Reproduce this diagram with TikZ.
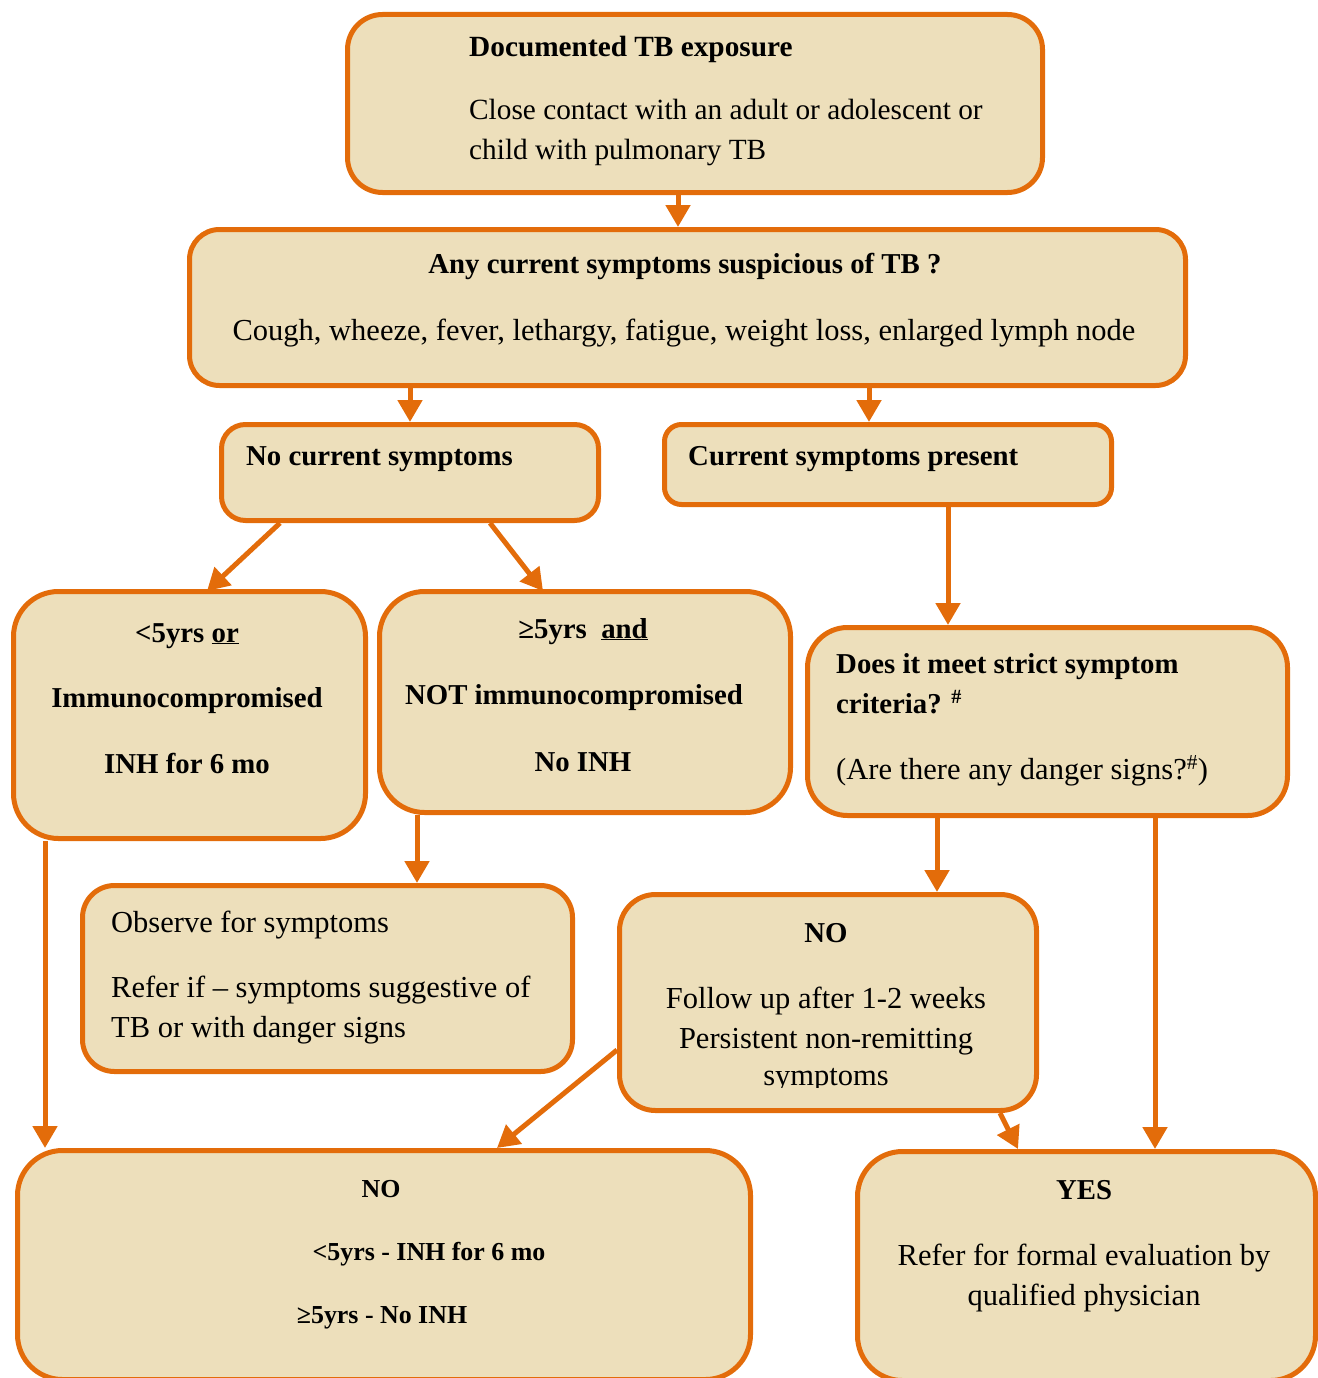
\documentclass[tikz,border=0pt]{standalone}
\usepackage{fontspec}
\setmainfont{Liberation Serif}
\usetikzlibrary{arrows.meta}

\definecolor{tborange}{RGB}{227,108,10}
\definecolor{tbfill}{RGB}{237,223,187}

\newcommand{\bodyfont}{\fontsize{30.5}{40}\selectfont}
\newcommand{\boldfont}{\fontsize{28.8}{38}\selectfont\bfseries}
\newcommand{\expofont}{\fontsize{29.3}{39}\selectfont}
\newcommand{\smallfont}{\fontsize{25.9}{34}\selectfont\bfseries}

\tikzset{
  tbbox/.style={draw=tborange, fill=tbfill, line width=5pt, inner sep=0pt, anchor=north west},
  tbarrow/.style={draw=tborange, line width=5pt, -{Triangle[length=22pt,width=24pt]}},
  txt/.style={font=\bodyfont, inner sep=0pt, text=black},
  txtb/.style={font=\boldfont, inner sep=0pt, text=black}
}

\begin{document}
\begin{tikzpicture}[x=1pt, y=-1pt]

        \useasboundingbox (0,0) rectangle (1317,1378);

        % Draw boxes
        \node[tbbox, minimum width=695pt, minimum height=178pt, rounded corners=35pt] (expo) at (345,12) {};
        \node[tbbox, minimum width=996pt, minimum height=156pt, rounded corners=30pt] (sympt) at (187,227) {};
        \node[tbbox, minimum width=377pt, minimum height=96pt, rounded corners=24pt] (nosym) at (219,422) {};
        \node[tbbox, minimum width=447pt, minimum height=80pt, rounded corners=17pt] (cursym) at (662,422) {};
        \node[tbbox, minimum width=352pt, minimum height=247pt, rounded corners=45pt] (young) at (11,589) {};
        \node[tbbox, minimum width=411pt, minimum height=221pt, rounded corners=45pt] (older) at (377,589) {};
        \node[tbbox, minimum width=480pt, minimum height=188pt, rounded corners=40pt] (strict) at (805,625) {};
        \node[tbbox, minimum width=490pt, minimum height=186pt, rounded corners=32pt] (observe) at (80,883) {};
        \node[tbbox, minimum width=417pt, minimum height=216pt, rounded corners=36pt] (follow) at (617,892) {};
        \node[tbbox, minimum width=733pt, minimum height=229pt, rounded corners=45pt] (notb) at (15,1148) {};
        \node[tbbox, minimum width=458pt, minimum height=229pt, rounded corners=45pt] (yestb) at (855,1149) {};

        % Arrows between boxes
        \draw[tbarrow] (expo.south -| 678,0) -- (sympt.north -| 678,0);
        \draw[tbarrow] (sympt.south -| 410,0) -- (nosym.north -| 410,0);
        \draw[tbarrow] (sympt.south -| 869,0) -- (cursym.north -| 869,0);
        \draw[tbarrow] ([xshift=61pt]nosym.south west) -- ([xshift=196pt,yshift=-2pt]young.north west);
        \draw[tbarrow] ([xshift=271pt]nosym.south west) -- ([xshift=166pt,yshift=-2pt]older.north west);
        \draw[tbarrow] (cursym.south -| 948,0) -- (strict.north -| 948,0);
        \draw[tbarrow] (older.south -| 417,0) -- (observe.north -| 417,0);
        \draw[tbarrow] (strict.south -| 937,0) -- (follow.north -| 937,0);
        \draw[tbarrow] (strict.south -| 1155,0) -- (yestb.north -| 1155,0);
        \draw[tbarrow] (young.south -| 45,0) -- (notb.north -| 45,0);
        \draw[tbarrow] ([yshift=-158pt]follow.north west) -- ([xshift=482pt]notb.north west);
        \draw[tbarrow] ([xshift=383pt]follow.south west) -- ([xshift=163pt]yestb.north west);

        % Texts in the boxes
        \node[txtb, font=\expofont\bfseries, anchor=base west] (expo-t1) at (469,57) {Documented TB exposure};
        \node[txt, font=\expofont, anchor=base west] (expo-t2) at (469,120) {Close contact with an adult or adolescent or};
        \node[txt, font=\expofont, anchor=base west] (expo-t3) at (469,160) {child with pulmonary TB};

        \node[txtb, anchor=base] (sympt-t1) at (685,273) {Any current symptoms suspicious of TB ?};
        \node[txt, anchor=base] (sympt-t2) at (684,340) {Cough, wheeze, fever, lethargy, fatigue, weight loss, enlarged lymph node};

        \node[txtb, anchor=base west] (nosym-t) at (246,465) {No current symptoms};
        \node[txtb, anchor=base west] (cursym-t) at (688,465) {Current symptoms present};

        \node[txtb, anchor=base] (young-t1) at (187,642) {<5yrs \underline{or}};
        \node[txtb, anchor=base] (young-t2) at (187,707) {Immunocompromised};
        \node[txtb, anchor=base] (young-t3) at (187,773) {INH for 6 mo};

        \node[txtb, anchor=base] (older-t1) at (583,638) {≥5yrs\ \ \underline{and}};
        \node[txtb, anchor=base] (older-t2) at (574,704) {NOT immunocompromised};
        \node[txtb, anchor=base] (older-t3) at (583,771) {No INH};

        \node[txtb, anchor=base west] (strict-t1) at (836,673) {Does it meet strict symptom};
        \node[txtb, anchor=base west] (strict-t2) at (836,713) {criteria? \textsuperscript{\#}};
        \node[txt, anchor=base west] (strict-t3) at (836,779) {(Are there any danger signs?\textsuperscript{\#})};

        \node[txt, anchor=base west] (observe-t1) at (111,932) {Observe for symptoms};
        \node[txt, anchor=base west] (observe-t2) at (111,997) {Refer if – symptoms suggestive of};
        \node[txt, anchor=base west] (observe-t3) at (111,1037) {TB or with danger signs};

        \node[txtb, anchor=base] (follow-t1) at (826,942) {NO};
        \node[txt, anchor=base] (follow-t2) at (826,1008) {Follow up after 1-2 weeks};
        \node[txt, anchor=base] (follow-t3) at (826,1048) {Persistent non-remitting};
        \begin{scope}
          \clip (620,1055) rectangle (1030,1087); % last line is cut off
          \node[txt, anchor=base] (follow-t4) at (826,1085) {symptoms};
        \end{scope}

        \node[txtb, font=\smallfont, anchor=base] (notb-t1) at (381,1197) {NO};
        \node[txtb, font=\smallfont, anchor=base] (notb-t2) at (429,1260) {<5yrs - INH for 6 mo};
        \node[txtb, font=\smallfont, anchor=base] (notb-t3) at (382,1323) {≥5yrs - No INH};

        \node[txtb, anchor=base] (yestb-t1) at (1084,1199) {YES};
        \node[txt, anchor=base] (yestb-t2) at (1084,1265) {Refer for formal evaluation by};
        \node[txt, anchor=base] (yestb-t3) at (1084,1305) {qualified physician};

      \end{tikzpicture}
\end{document}
